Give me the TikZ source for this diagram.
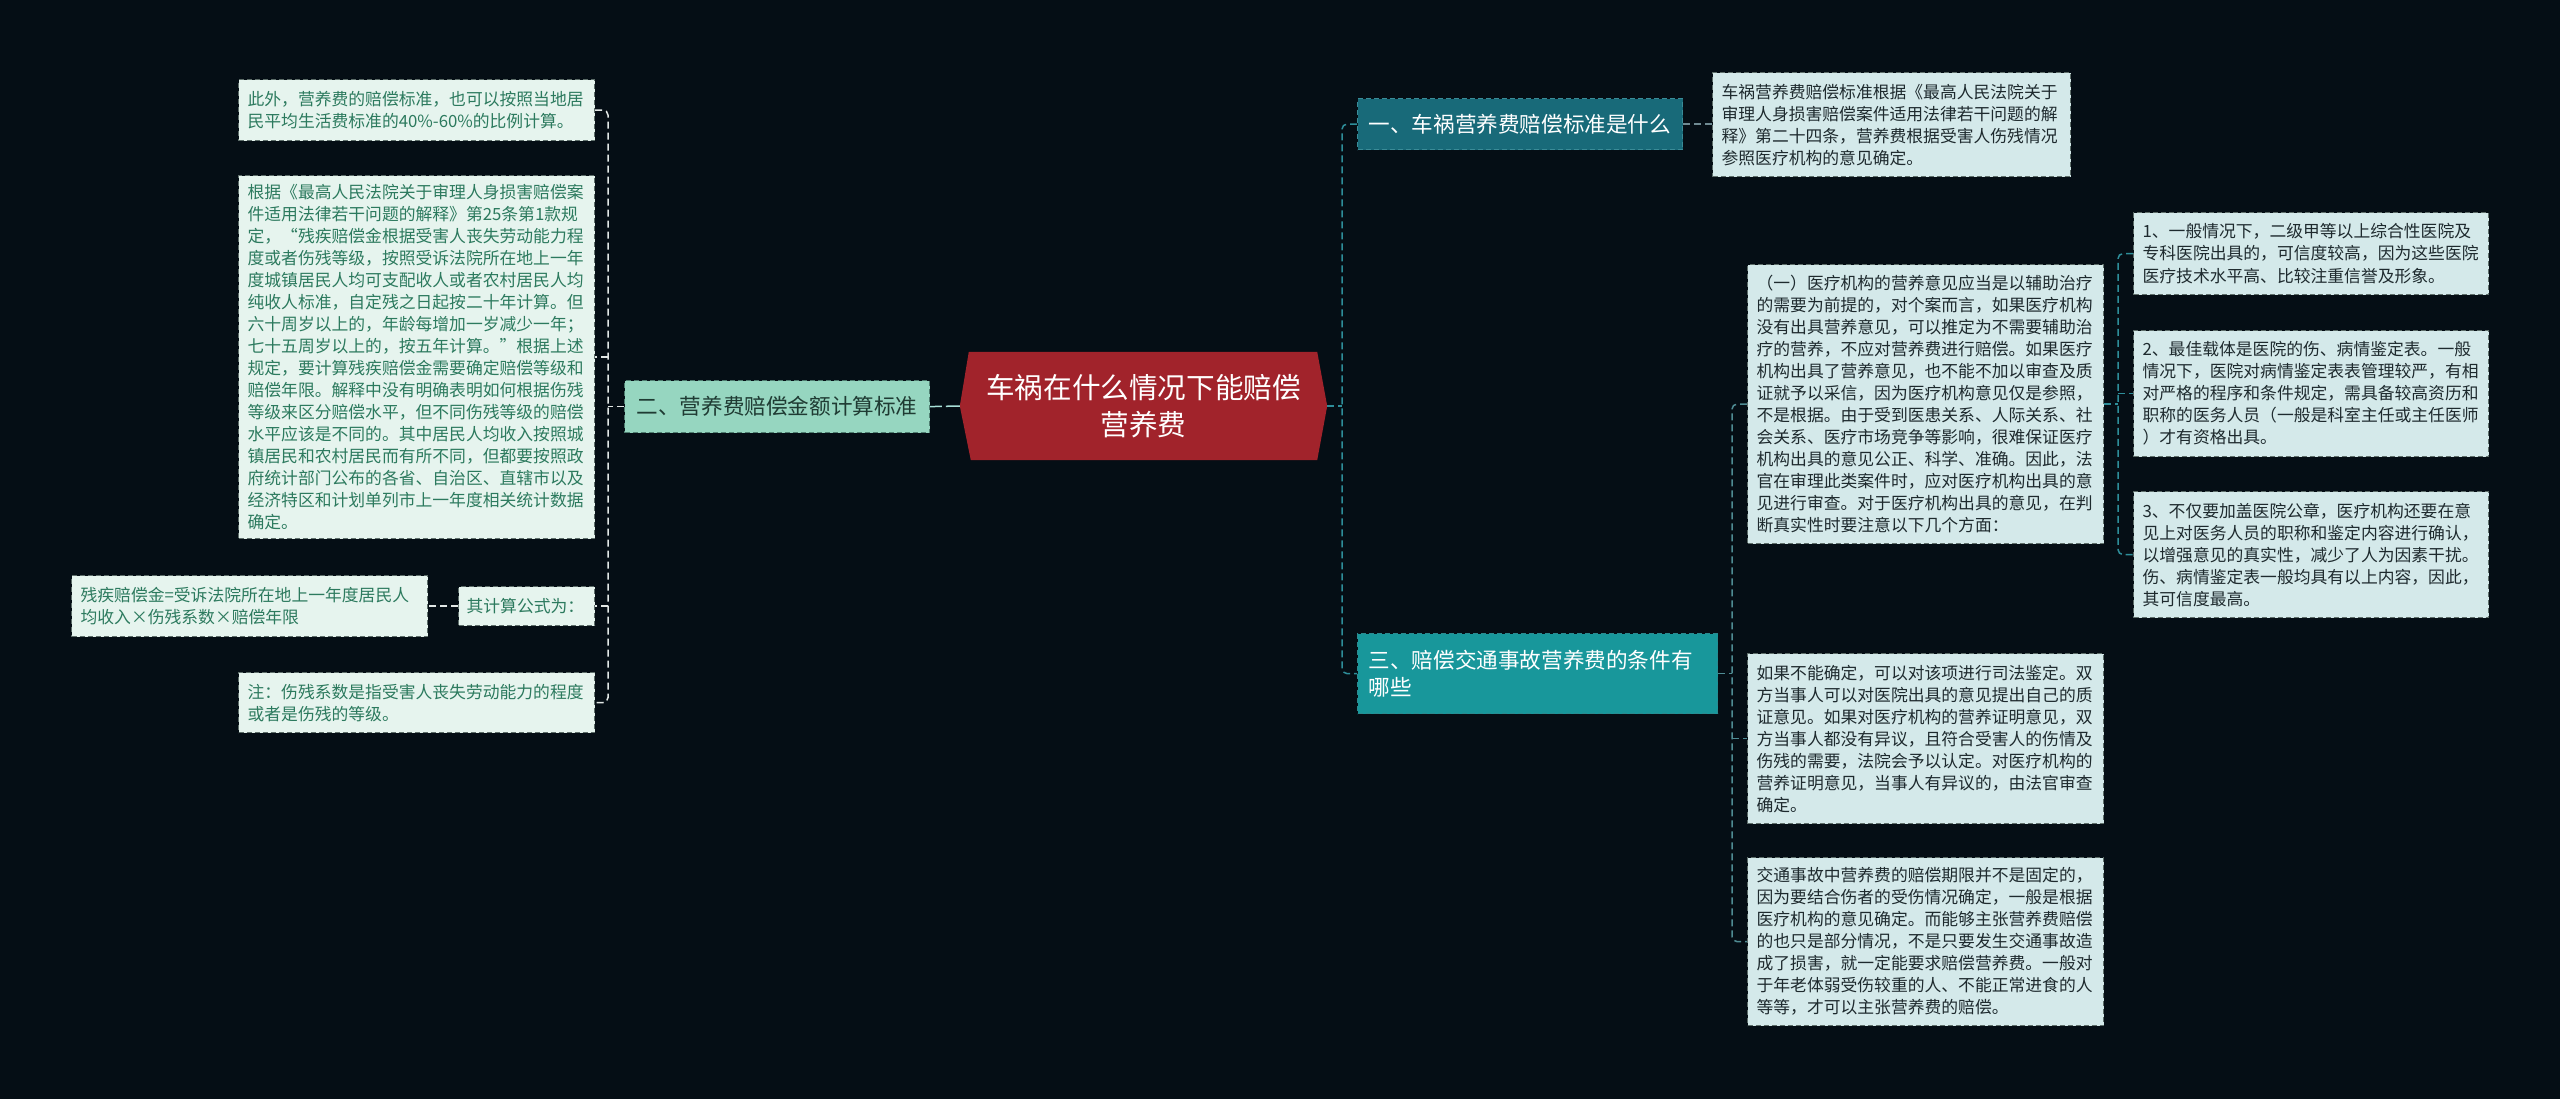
\documentclass[tikz,border=0pt]{standalone}
\usepackage{fontspec}
\setmainfont{Noto Sans CJK SC}
\definecolor{bgc}{HTML}{050E15}
\definecolor{rootred}{HTML}{A1232B}
\definecolor{mint}{HTML}{96D6C0}
\definecolor{mintbd}{HTML}{4F7D70}
\definecolor{mintdk}{HTML}{1F3B33}
\definecolor{lleaffill}{HTML}{E6F4EE}
\definecolor{lleaftext}{HTML}{2C7A5E}
\definecolor{leafbd}{HTML}{5E6E6A}
\definecolor{rleaffill}{HTML}{D4E9EA}
\definecolor{rleaftext}{HTML}{1E2A2E}
\definecolor{tealdk}{HTML}{186A79}
\definecolor{tealdkbd}{HTML}{3A8C98}
\definecolor{tealmd}{HTML}{18979B}
\definecolor{tealmdbd}{HTML}{2C8A8F}
\definecolor{lconnc}{HTML}{E2E8E6}
\definecolor{rootconn}{HTML}{A8E0D8}
\definecolor{rconnc}{HTML}{2E8E9A}
\definecolor{gconnc}{HTML}{6F8A92}
\definecolor{tconnc}{HTML}{4F8C94}
\pgfdeclarelayer{pagebg}
\pgfdeclarelayer{shapebg}
\pgfsetlayers{pagebg,shapebg,main}
\tikzset{
  boxbase/.style={anchor=north west, inner sep=0pt, align=left, dash pattern=on 5pt off 3pt, line width=1.2pt},
  lleaf/.style={boxbase, fill=lleaffill, draw=leafbd, text=lleaftext, font=\fontsize{16.8pt}{22pt}\selectfont},
  rleaf/.style={boxbase, fill=rleaffill, draw=leafbd, text=rleaftext, font=\fontsize{16.8pt}{22pt}\selectfont},
  branchtwo/.style={boxbase, fill=mint, draw=mintbd, text=mintdk, font=\fontsize{21.6pt}{27pt}\selectfont},
  branchone/.style={boxbase, fill=tealdk, draw=tealdkbd, text=white, font=\fontsize{21.6pt}{27pt}\selectfont},
  branchthree/.style={boxbase, fill=tealmd, draw=tealmdbd, text=white, font=\fontsize{21.6pt}{27pt}\selectfont},
  rootnode/.style={inner sep=0pt, align=center, text=white, font=\fontsize{28.6pt}{37pt}\selectfont},
  conn/.style={line width=1.5pt, dash pattern=on 7pt off 4pt},
  lconn/.style={conn, draw=lconnc},
  rootc/.style={conn, draw=rootconn, dash pattern=on 14pt off 4pt},
  rconn/.style={conn, draw=rconnc},
  gconn/.style={conn, draw=gconnc},
  tconn/.style={conn, draw=tconnc},
}
\begin{document}
\begin{tikzpicture}[x=1pt,y=-1pt]
\begin{pgfonlayer}{pagebg}
\fill[bgc] (0,0) rectangle (2560,1099);
\end{pgfonlayer}
\useasboundingbox (0,0) rectangle (2560,1099);

% root
\node[rootnode, minimum width=367pt, minimum height=108pt] (root) at (1143.5,406) {车祸在什么情况下能赔偿\\营养费};
\begin{pgfonlayer}{shapebg}
\fill[rootred] ([xshift=9pt]root.north west) -- ([xshift=-10pt]root.north east) -- (root.east) -- ([xshift=-10pt]root.south east) -- ([xshift=11pt]root.south west) -- (root.west) -- cycle;
\end{pgfonlayer}

% left side
\node[branchtwo, minimum width=305pt, minimum height=52pt, text width=281pt] (b2) at (624,380) {二、营养费赔偿金额计算标准};
\node[lleaf, minimum width=356pt, minimum height=61pt, text width=338pt] (L1) at (238,79) {此外，营养费的赔偿标准，也可以按照当地居\\民平均生活费标准的40\%-60\%的比例计算。};
\node[lleaf, minimum width=356pt, minimum height=363pt, text width=338pt] (L2) at (238,175) {根据《最高人民法院关于审理人身损害赔偿案\\件适用法律若干问题的解释》第25条第1款规\\定，“残疾赔偿金根据受害人丧失劳动能力程\\度或者伤残等级，按照受诉法院所在地上一年\\度城镇居民人均可支配收人或者农村居民人均\\纯收人标准，自定残之日起按二十年计算。但\\六十周岁以上的，年龄每增加一岁减少一年；\\七十五周岁以上的，按五年计算。”根据上述\\规定，要计算残疾赔偿金需要确定赔偿等级和\\赔偿年限。解释中没有明确表明如何根据伤残\\等级来区分赔偿水平，但不同伤残等级的赔偿\\水平应该是不同的。其中居民人均收入按照城\\镇居民和农村居民而有所不同，但都要按照政\\府统计部门公布的各省、自治区、直辖市以及\\经济特区和计划单列市上一年度相关统计数据\\确定。};
\node[lleaf, minimum width=136pt, minimum height=39pt, text width=120pt] (calc) at (458,586) {其计算公式为：};
\node[lleaf, minimum width=356pt, minimum height=61pt, text width=338pt] (formula) at (71,575) {残疾赔偿金=受诉法院所在地上一年度居民人\\均收入×伤残系数×赔偿年限};
\node[lleaf, minimum width=356pt, minimum height=60pt, text width=338pt] (note) at (238,672) {注：伤残系数是指受害人丧失劳动能力的程度\\或者是伤残的等级。};

% right side
\node[branchone, minimum width=325pt, minimum height=51pt, text width=303pt] (b1) at (1357,98) {一、车祸营养费赔偿标准是什么};
\node[rleaf, minimum width=358pt, minimum height=104pt, text width=340pt] (R1) at (1712,72) {车祸营养费赔偿标准根据《最高人民法院关于\\审理人身损害赔偿案件适用法律若干问题的解\\释》第二十四条，营养费根据受害人伤残情况\\参照医疗机构的意见确定。};
\node[branchthree, minimum width=360pt, minimum height=80pt, text width=338pt] (b3) at (1357,633) {三、赔偿交通事故营养费的条件有\\哪些};
\node[rleaf, minimum width=356pt, minimum height=279pt, text width=338pt] (R2) at (1747,264) {（一）医疗机构的营养意见应当是以辅助治疗\\的需要为前提的，对个案而言，如果医疗机构\\没有出具营养意见，可以推定为不需要辅助治\\疗的营养，不应对营养费进行赔偿。如果医疗\\机构出具了营养意见，也不能不加以审查及质\\证就予以采信，因为医疗机构意见仅是参照，\\不是根据。由于受到医患关系、人际关系、社\\会关系、医疗市场竞争等影响，很难保证医疗\\机构出具的意见公正、科学、准确。因此，法\\官在审理此类案件时，应对医疗机构出具的意\\见进行审查。对于医疗机构出具的意见，在判\\断真实性时要注意以下几个方面：};
\node[rleaf, minimum width=356pt, minimum height=170pt, text width=338pt] (R3) at (1747,653) {如果不能确定，可以对该项进行司法鉴定。双\\方当事人可以对医院出具的意见提出自己的质\\证意见。如果对医疗机构的营养证明意见，双\\方当事人都没有异议，且符合受害人的伤情及\\伤残的需要，法院会予以认定。对医疗机构的\\营养证明意见，当事人有异议的，由法官审查\\确定。};
\node[rleaf, minimum width=356pt, minimum height=168pt, text width=338pt] (R4) at (1747,857) {交通事故中营养费的赔偿期限并不是固定的，\\因为要结合伤者的受伤情况确定，一般是根据\\医疗机构的意见确定。而能够主张营养费赔偿\\的也只是部分情况，不是只要发生交通事故造\\成了损害，就一定能要求赔偿营养费。一般对\\于年老体弱受伤较重的人、不能正常进食的人\\等等，才可以主张营养费的赔偿。};
\node[rleaf, minimum width=355pt, minimum height=82pt, text width=337pt] (R2a) at (2133,212) {1、一般情况下，二级甲等以上综合性医院及\\专科医院出具的，可信度较高，因为这些医院\\医疗技术水平高、比较注重信誉及形象。};
\node[rleaf, minimum width=355pt, minimum height=126pt, text width=337pt] (R2b) at (2133,330) {2、最佳载体是医院的伤、病情鉴定表。一般\\情况下，医院对病情鉴定表表管理较严，有相\\对严格的程序和条件规定，需具备较高资历和\\职称的医务人员（一般是科室主任或主任医师\\）才有资格出具。};
\node[rleaf, minimum width=355pt, minimum height=126pt, text width=337pt] (R2c) at (2133,491) {3、不仅要加盖医院公章，医疗机构还要在意\\见上对医务人员的职称和鉴定内容进行确认，\\以增强意见的真实性，减少了人为因素干扰。\\伤、病情鉴定表一般均具有以上内容，因此，\\其可信度最高。};

% connectors
\coordinate (lx) at (608,406);
\coordinate (rx) at (1342,406);
\coordinate (tx) at (1732,673);
\coordinate (ux) at (2118,403);

\draw[rootc] (root.west) -- (b2.east);
\draw[lconn] (b2.west) -- (b2.west -| lx);
\draw[lconn, rounded corners=5pt] (L1.east) -- (L1.east -| lx) -- (note.east -| lx) -- (note.east);
\draw[lconn] (L2.east -| lx) -- (L2.east);
\draw[lconn] (calc.east -| lx) -- (calc.east);
\draw[lconn] (calc.west) -- (formula.east);

\draw[rconn] (root.east) -- (root.east -| rx);
\draw[rconn, rounded corners=5pt] (b1.west) -- (b1.west -| rx) -- (b3.west -| rx) -- (b3.west);
\draw[gconn] (b1.east) -- (R1.west |- b1.east);

\draw[tconn] (b3.east) -- (b3.east -| tx);
\draw[tconn, rounded corners=5pt] (R2.west) -- (R2.west -| tx) -- (R4.west -| tx) -- (R4.west);
\draw[tconn] (R3.west -| tx) -- (R3.west);

\draw[rconn] (R2.east) -- (R2.east -| ux);
\draw[rconn, rounded corners=5pt] (R2a.west) -- (R2a.west -| ux) -- (R2c.west -| ux) -- (R2c.west);
\draw[rconn] (R2b.west -| ux) -- (R2b.west);
\end{tikzpicture}
\end{document}
